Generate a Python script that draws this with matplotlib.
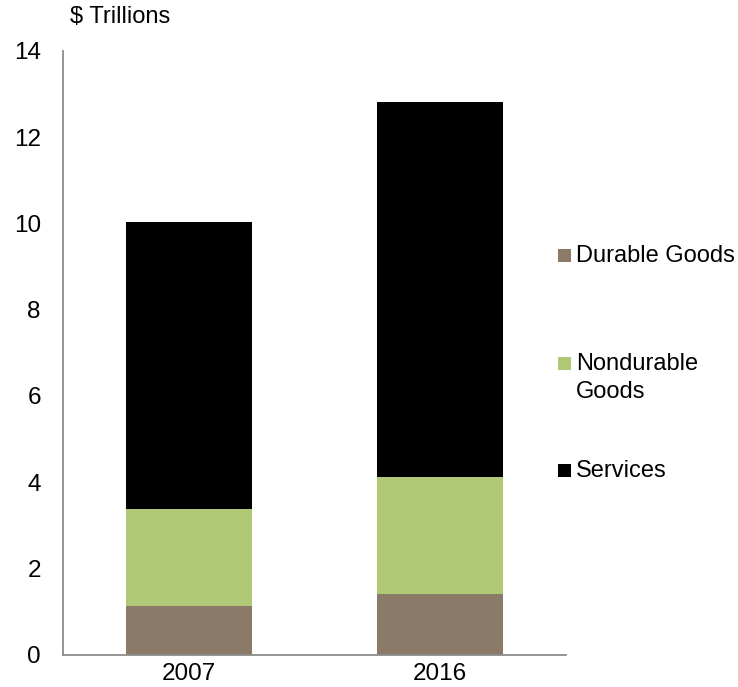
import matplotlib
matplotlib.use("Agg")
import matplotlib.pyplot as plt
from matplotlib.patches import Rectangle

years = ["2007", "2016"]
durable = [1.13, 1.41]
nondurable = [2.25, 2.71]
services = [6.65, 8.70]
series_names = ["Durable Goods", "Nondurable\nGoods", "Services"]
series_colors = ["#8A7A67", "#B0C977", "#000000"]
y_ticks = [0, 2, 4, 6, 8, 10, 12, 14]

plt.rcParams["font.family"] = ["Liberation Sans", "DejaVu Sans"]

fig = plt.figure(figsize=(7.38, 6.87), dpi=100)
ax = fig.add_axes([0.0854, 0.0473, 0.6816, 0.8785])

x = list(range(len(years)))
bottom = [0.0] * len(years)
for vals, color in zip([durable, nondurable, services], series_colors):
    ax.bar(x, vals, width=0.5, bottom=bottom, color=color, edgecolor="none", zorder=2)
    bottom = [b + v for b, v in zip(bottom, vals)]

ax.set_xlim(-0.5, 1.5)
ax.set_ylim(0, 14)
ax.set_yticks(y_ticks)
ax.set_xticks(x)
ax.set_xticklabels(years)
ax.tick_params(axis="both", length=0, labelsize=17.5)
ax.tick_params(axis="y", pad=16)
ax.tick_params(axis="x", pad=6)

for side in ["top", "right"]:
    ax.spines[side].set_visible(False)
for side in ["left", "bottom"]:
    ax.spines[side].set_color("#8C8C8C")
    ax.spines[side].set_linewidth(1.3)

fig.text(70 / 738, 1 - 17 / 687, "$ Trillions", fontsize=17, ha="left", va="center")

# Legend drawn as squares with labels on the right
W, H = 738, 687
legend_rows = [255, 363, 470]
sq = 13
for name, color, yc in zip(series_names, series_colors, legend_rows):
    fig.add_artist(Rectangle(((558) / W, 1 - (yc + sq / 2) / H), sq / W, sq / H,
                             transform=fig.transFigure, facecolor=color, edgecolor="none"))
    fig.text(576 / W, 1 - (yc - 10) / H, name, fontsize=17, ha="left", va="top",
             linespacing=1.35)

fig.savefig("out.png", dpi=100)
